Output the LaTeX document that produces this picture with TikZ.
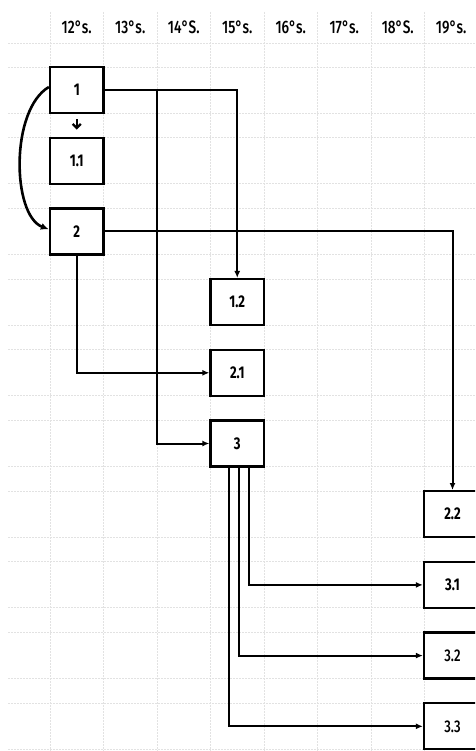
\documentclass[tikz,border=0pt]{standalone}
\usepackage{fontspec}
\setmainfont{Fira Sans}[FakeStretch=0.76,UprightFont=* Medium]
\newfontfamily\boxfont{Fira Sans}[FakeStretch=0.76,UprightFont=* Bold]
\usetikzlibrary{arrows.meta}
\definecolor{gridc}{HTML}{E2E2E2}
\tikzset{
  gridline/.style={draw=gridc,line width=0.9pt,dash pattern=on 2pt off 1pt},
  stepbox/.style={draw,line width=2.3pt,minimum width=53.5pt,minimum height=46pt,inner sep=0pt,font=\boxfont\fontsize{17}{17}\selectfont},
  lightbox/.style={stepbox,font=\fontsize{17}{17}\selectfont},
  hdr/.style={font=\fontsize{18}{18}\selectfont,inner sep=0pt},
  conn/.style={line width=2pt,-{Latex[length=7pt,width=6pt]}},
}
\begin{document}
\begin{tikzpicture}[x=1pt,y=-1pt]
\useasboundingbox (0,0) rectangle (475,751);
\clip (0,0) rectangle (475,751);
\fill[white] (0,0) rectangle (475,751);
% grid
\foreach \i in {0,...,8} \draw[gridline] ({50+53.5*\i},12) -- ({50+53.5*\i},751);
\draw[gridline] (8,43) -- (475,43);
\foreach \r in {0,...,9} {
  \draw[gridline] (8,{67+70.7*\r}) -- (475,{67+70.7*\r});
  \draw[gridline] (8,{113+70.7*\r}) -- (475,{113+70.7*\r});
}
% header
\node[hdr] (h12) at (76.75,27) {12°s.};
\node[hdr] (h13) at (130.25,27) {13°s.};
\node[hdr] (h14) at (183.75,27) {14°S.};
\node[hdr] (h15) at (237.25,27) {15°s.};
\node[hdr] (h16) at (290.75,27) {16°s.};
\node[hdr] (h17) at (344.25,27) {17°s.};
\node[hdr] (h18) at (397.75,27) {18°S.};
\node[hdr] (h19) at (451.25,27) {19°s.};
% boxes
\node[stepbox] (b1)  at (76.75,90) {1};
\node[stepbox] (b11) at (76.75,160.7) {1.1};
\node[stepbox] (b2)  at (76.75,231.4) {2};
\node[stepbox] (b12) at (237.25,302.1) {1.2};
\node[stepbox] (b21) at (237.25,372.8) {2.1};
\node[stepbox] (b3)  at (237.25,443.5) {3};
\node[stepbox,minimum width=57pt] (b22) at (452.5,514.2) {2.2};
\node[stepbox,minimum width=57pt] (b31) at (452.5,584.9) {3.1};
\node[lightbox,minimum width=57pt] (b32) at (452.5,655.6) {3.2};
\node[lightbox,minimum width=57pt] (b33) at (452.5,726.3) {3.3};
% connectors
\draw[line width=2.2pt,-{Straight Barb[length=4pt,width=8pt]},shorten <=5pt,shorten >=7pt] (b1) -- (b11);
\draw[line width=2.6pt,-{Latex[length=8pt,width=7pt]}] ([yshift=3pt]b1.west) .. controls (10,110) and (12,215) .. ([yshift=2pt]b2.west);
\draw[conn] (b1.east) -| (b12.north);
\draw[conn] (b1.east) -| (157,443.5) -- (b3.west);
\draw[conn] (b2.east) -| (b22.north);
\draw[conn] (b2.south) |- (b21.west);
\draw[conn] ([xshift=12pt]b3.south) |- (b31.west);
\draw[conn] ([xshift=2pt]b3.south) |- (b32.west);
\draw[conn] ([xshift=-8pt]b3.south) |- (b33.west);
\end{tikzpicture}
\end{document}
